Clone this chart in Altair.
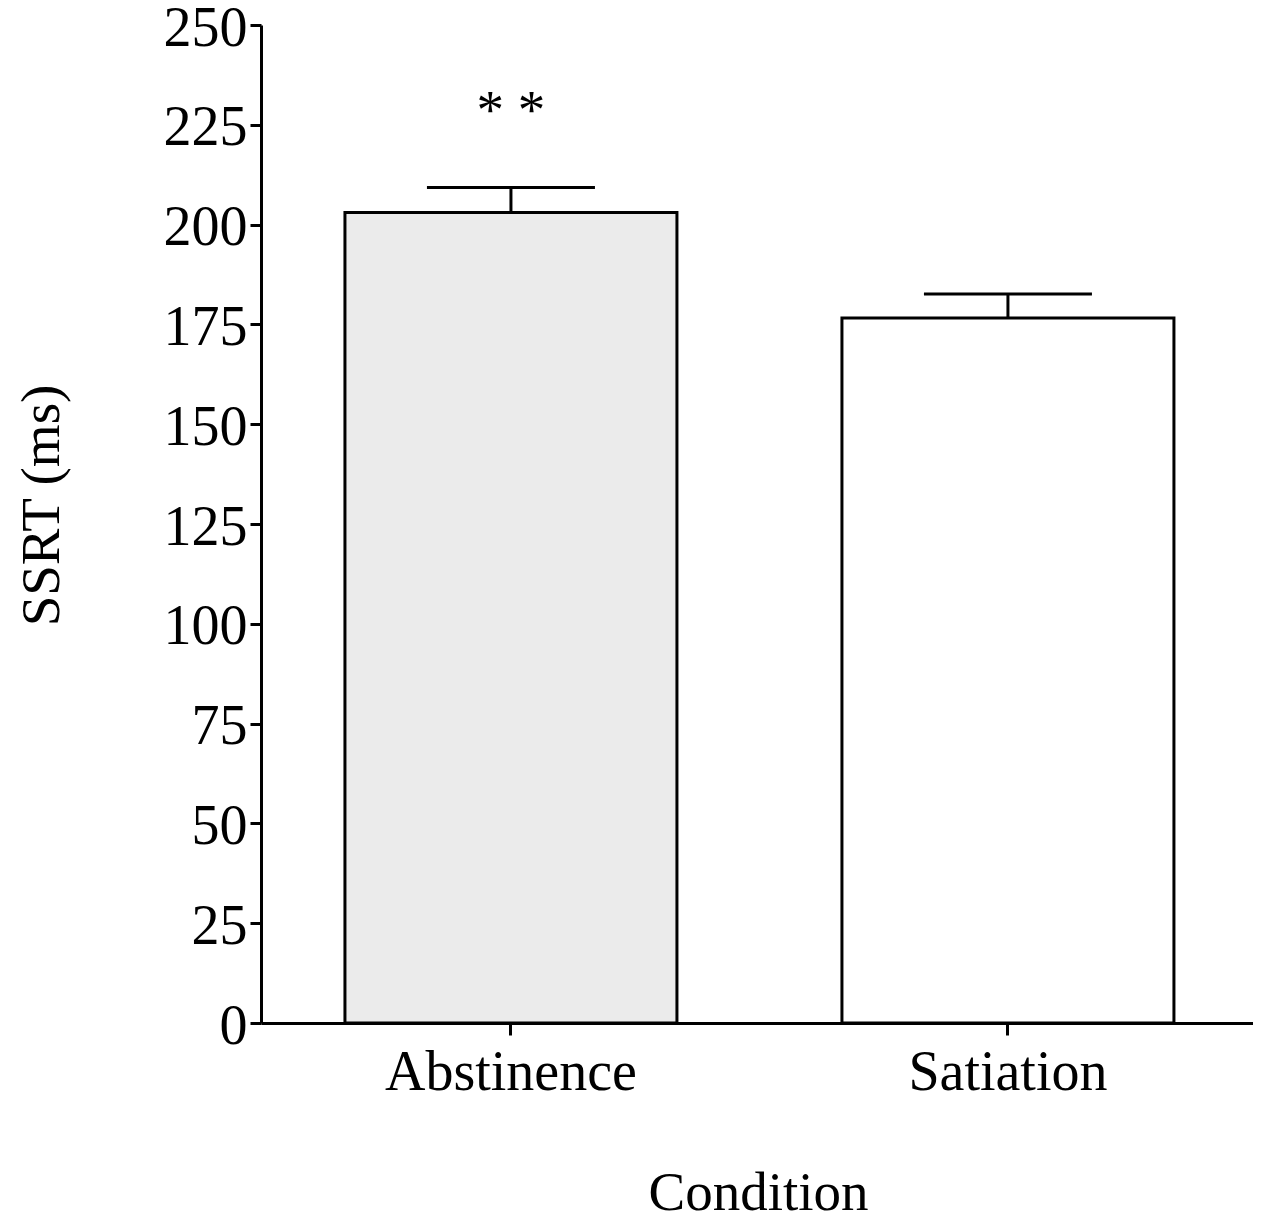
import altair as alt
import pandas as pd

conditions = ["Abstinence", "Satiation"]
means = [203.0, 176.6]
sems = [6.3, 6.0]
fills = ["#ebebeb", "#ffffff"]
stars = ["* *", ""]

df = pd.DataFrame({
    "Condition": conditions,
    "SSRT": means,
    "upper": [m + s for m, s in zip(means, sems)],
    "fill": fills,
    "stars": stars,
})

FONT = "Liberation Serif"

x = alt.X(
    "Condition:N",
    sort=conditions,
    scale=alt.Scale(paddingInner=0.332, paddingOuter=0.164, align=0.515),
    axis=alt.Axis(
        title="Condition",
        labelAngle=0,
        labelPadding=10,
        labelLimit=0,
        tickSize=12,
        titleX=497,
        titleY=186,
        titleBaseline="alphabetic",
        titleAlign="center",
    ),
)

y_scale = alt.Scale(domain=[0, 250], nice=False)
y_axis = alt.Axis(
    title="SSRT (ms)",
    values=list(range(0, 251, 25)),
    labelPadding=3,
    labelLimit=0,
    labelOffset=3,
    tickSize=11,
    titleAngle=-90,
    titleX=-203,
    titleY=480,
    titleAlign="center",
    titleBaseline="alphabetic",
)

base = alt.Chart(df)

bars = base.mark_bar(stroke="black", strokeWidth=3).encode(
    x=x,
    y=alt.Y("SSRT:Q", scale=y_scale, axis=y_axis),
    fill=alt.Fill("fill:N", scale=None),
)

stems = base.mark_rule(color="black", strokeWidth=3).encode(
    x=alt.X("Condition:N", sort=conditions),
    y="SSRT:Q",
    y2="upper:Q",
)

caps = base.mark_tick(color="black", size=168, thickness=3, opacity=1).encode(
    x=alt.X("Condition:N", sort=conditions),
    y="upper:Q",
)

sig = base.mark_text(
    font=FONT, fontSize=55, color="black", baseline="alphabetic", dy=-59
).encode(
    x=alt.X("Condition:N", sort=conditions),
    y="upper:Q",
    text="stars:N",
)

chart = (
    alt.layer(bars, stems, caps, sig)
    .properties(
        width=992,
        height=998,
        padding={"left": 253, "top": 17, "right": 0, "bottom": 189},
        autosize="none",
        background="white",
    )
    .configure_view(stroke=None)
    .configure_axis(
        grid=False,
        domainColor="black",
        domainWidth=3,
        tickColor="black",
        tickWidth=3,
        labelFont=FONT,
        labelFontSize=56,
        labelColor="black",
        titleFont=FONT,
        titleFontSize=55,
        titleFontWeight="normal",
        titleColor="black",
    )
)

chart.save("out.html", embed_options={"renderer": "svg", "actions": False})
